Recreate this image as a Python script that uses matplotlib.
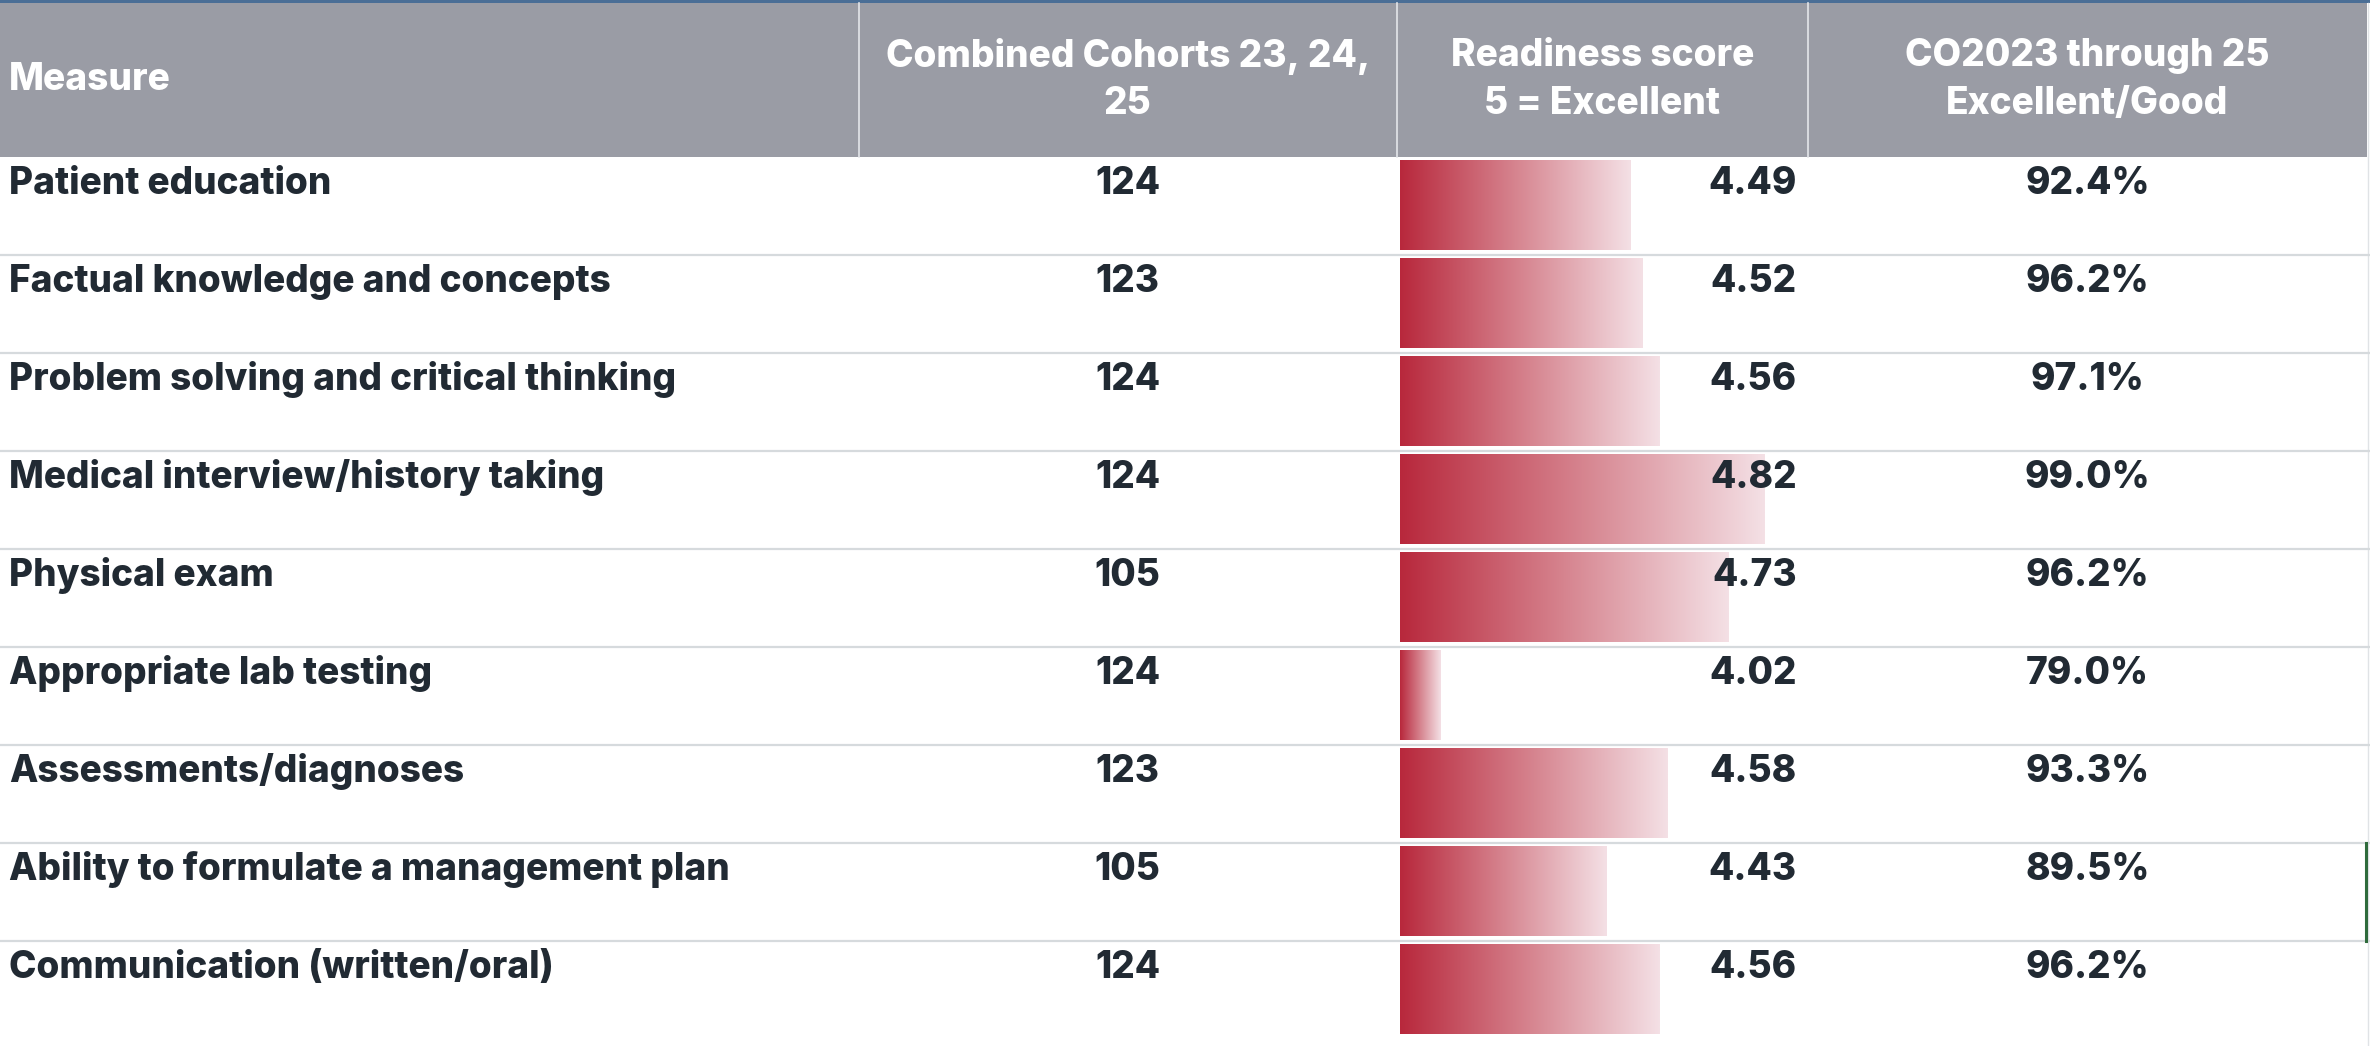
import matplotlib
matplotlib.use("Agg")
import matplotlib.pyplot as plt
from matplotlib.colors import LinearSegmentedColormap
from matplotlib.patches import Rectangle
import numpy as np

# table data
measures = [
    "Patient education",
    "Factual knowledge and concepts",
    "Problem solving and critical thinking",
    "Medical interview/history taking",
    "Physical exam",
    "Appropriate lab testing",
    "Assessments/diagnoses",
    "Ability to formulate a management plan",
    "Communication (written/oral)",
]
counts = [124, 123, 124, 124, 105, 124, 123, 105, 124]
readiness = [4.49, 4.52, 4.56, 4.82, 4.73, 4.02, 4.58, 4.43, 4.56]
excellent_good = [92.4, 96.2, 97.1, 99.0, 96.2, 79.0, 93.3, 89.5, 96.2]
headers = ["Measure", "Combined Cohorts 23, 24,\n25",
           "Readiness score\n5 = Excellent", "CO2023 through 25\nExcellent/Good"]

W, H = 2370, 1046
HEAD_TOP, HEAD_BOT = 3, 157
ROW_H = 98
COL_X = [0, 858.6, 1396.6, 1807.8, 2367]
BAR_BASE = 3.92
PX_PER_UNIT = 405.0

TEXT = "#212a33"
HEAD_BG = "#9a9ca5"
GRID = "#d6dadd"
BODY_FS = 26.6
HEAD_FS = 26.7
WEIGHT = 800
plt.rcParams["font.family"] = ["Inter", "DejaVu Sans"]

fig = plt.figure(figsize=(W / 100, H / 100), dpi=100)
ax = fig.add_axes([0, 0, 1, 1])
ax.set_xlim(0, W)
ax.set_ylim(H, 0)
ax.axis("off")
ax.set_zorder(3)

# header band
ax.add_patch(Rectangle((0, 0), W, HEAD_TOP, color="#4a6e96", lw=0))
ax.add_patch(Rectangle((0, HEAD_TOP), COL_X[-1], HEAD_BOT - HEAD_TOP, color=HEAD_BG, lw=0))
for x in COL_X[1:-1]:
    ax.plot([x, x], [HEAD_TOP, HEAD_BOT], color="#e4e6ea", lw=1.2)
ax.plot([COL_X[-1] + 1, COL_X[-1] + 1], [HEAD_TOP, H], color="#e0e3e6", lw=1.0)

head_y = (HEAD_TOP + HEAD_BOT) / 2
ax.text(9, head_y, headers[0], color="white", fontsize=HEAD_FS, fontweight=WEIGHT,
        va="center", ha="left")
for j in range(1, 4):
    cx = (COL_X[j] + COL_X[j + 1]) / 2
    ax.text(cx, head_y, headers[j], color="white", fontsize=HEAD_FS, fontweight=WEIGHT,
            va="center", ha="center", multialignment="center", linespacing=1.4)

# row separators and cell text
n = len(measures)
for i in range(n):
    top = HEAD_BOT + ROW_H * i
    if i < n - 1:
        ax.plot([0, W], [top + ROW_H, top + ROW_H], color=GRID, lw=1.6)
    base = top + 37
    ax.text(9, base, measures[i], color=TEXT, fontsize=BODY_FS, fontweight=WEIGHT,
            va="baseline", ha="left")
    ax.text((COL_X[1] + COL_X[2]) / 2, base, f"{counts[i]}", color=TEXT, fontsize=BODY_FS,
            fontweight=WEIGHT, va="baseline", ha="center")
    ax.text(COL_X[3] - 11, base, f"{readiness[i]:.2f}", color=TEXT, fontsize=BODY_FS,
            fontweight=WEIGHT, va="baseline", ha="right")
    ax.text((COL_X[3] + COL_X[4]) / 2, base, f"{excellent_good[i]:.1f}%", color=TEXT,
            fontsize=BODY_FS, fontweight=WEIGHT, va="baseline", ha="center")

# selection marker on the right edge
sel = 7
ax.plot([W - 4, W - 4], [HEAD_BOT + ROW_H * sel, HEAD_BOT + ROW_H * (sel + 1)],
        color="#2f6b3c", lw=2.2)

# gradient data bars in their own axes (drawn under the text layer)
bar_left = COL_X[2] + 3
bax = fig.add_axes([bar_left / W, 0, (COL_X[3] - bar_left) / W, (H - HEAD_BOT) / H])
bax.set_zorder(1)
bax.axis("off")
n_rows_visible = (H - HEAD_BOT) / ROW_H

cmap = LinearSegmentedColormap.from_list("bar", ["#b8283c", "#d6848f", "#f4e0e5"])
grad = np.linspace(0, 1, 256).reshape(1, -1)
pad_top, pad_bot = 3.5 / ROW_H, 4.5 / ROW_H
for i, v in enumerate(readiness):
    bax.imshow(grad, cmap=cmap, aspect="auto", interpolation="bilinear",
               extent=(BAR_BASE, v, i + 1 - pad_bot, i + pad_top))
bax.set_xlim(BAR_BASE, BAR_BASE + (COL_X[3] - bar_left) / PX_PER_UNIT)
bax.set_ylim(n_rows_visible, 0)

fig.savefig("out.png", dpi=100)
